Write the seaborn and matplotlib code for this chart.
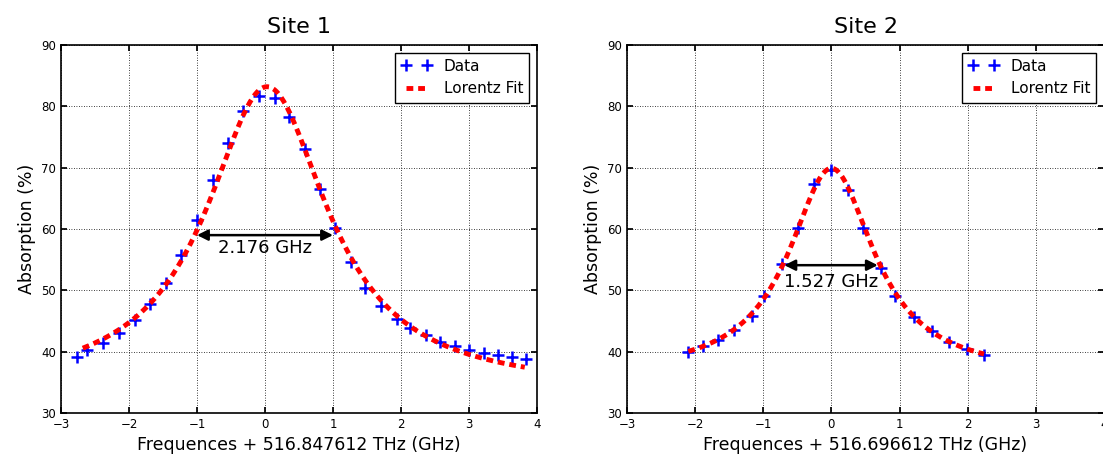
import numpy as np
import matplotlib
matplotlib.use("Agg")
import matplotlib.pyplot as plt
import seaborn as sns

# Site 1 measured points
x1 = [-2.76, -2.62, -2.38, -2.14, -1.91, -1.69, -1.46, -1.23, -1.00, -0.77,
      -0.54, -0.33, -0.09, 0.15, 0.36, 0.59, 0.81, 1.03, 1.26, 1.47,
      1.70, 1.94, 2.13, 2.37, 2.57, 2.79, 3.00, 3.22, 3.43, 3.63, 3.84]
y1 = [39.2, 40.2, 41.4, 43.0, 45.2, 47.8, 51.2, 55.8, 61.5, 68.0,
      74.1, 79.2, 81.7, 81.4, 78.3, 73.0, 66.5, 60.2, 54.6, 50.4,
      47.4, 45.3, 43.8, 42.7, 41.6, 40.9, 40.3, 39.8, 39.5, 39.1, 38.8]

# Site 2 measured points
x2 = [-2.11, -1.88, -1.66, -1.43, -1.17, -0.99, -0.73, -0.49, -0.25, -0.01,
      0.25, 0.47, 0.73, 0.94, 1.21, 1.47, 1.73, 1.99, 2.24]
y2 = [39.9, 40.9, 41.9, 43.6, 45.8, 49.1, 54.3, 60.1, 67.4, 69.7,
      66.4, 60.1, 53.6, 49.0, 45.7, 43.3, 41.6, 40.5, 39.4]

# Lorentz fit parameters: (centre, FWHM, amplitude, offset, x range)
fit1 = (0.03, 2.176, 49.5, 33.7, -2.68, 3.82)
fit2 = (0.0, 1.527, 33.8, 36.1, -2.10, 2.24)

# FWHM arrows: (x start, x end, y, label, label y)
arrow1 = (-1.0, 1.0, 59.0, "2.176 GHz", 56.9)
arrow2 = (-0.69, 0.68, 54.1, "1.527 GHz", 51.3)

titles = ["Site 1", "Site 2"]
xlabels = ["Frequences + 516.847612 THz (GHz)", "Frequences + 516.696612 THz (GHz)"]


def lorentz(x, x0, w, a, b):
    return b + a / (1 + (2 * (x - x0) / w) ** 2)


sns.set_theme(style="ticks", rc={
    "axes.linewidth": 1.2,
    "axes.edgecolor": "black",
    "axes.labelcolor": "black",
    "text.color": "black",
    "xtick.direction": "in",
    "ytick.direction": "in",
    "xtick.top": True,
    "ytick.right": True,
    "xtick.major.size": 4,
    "ytick.major.size": 4,
    "xtick.major.pad": 3.5,
    "ytick.major.pad": 3.5,
    "xtick.labelsize": 8.5,
    "ytick.labelsize": 8.5,
    "xtick.color": "black",
    "ytick.color": "black",
})
plt.rcParams["font.family"] = ["DejaVu Sans"]

fig = plt.figure(figsize=(11.03, 4.58), dpi=100)
ax1 = fig.add_axes([61 / 1103, 45 / 458, 476 / 1103, 368 / 458])
ax2 = fig.add_axes([627 / 1103, 45 / 458, 477 / 1103, 368 / 458])

for ax, xs, ys, fit, arr, title, xlab in zip(
        [ax1, ax2], [x1, x2], [y1, y2], [fit1, fit2], [arrow1, arrow2], titles, xlabels):
    x0, w, a, b, xmin, xmax = fit
    xf = np.linspace(xmin, xmax, 300)
    yf = lorentz(xf, x0, w, a, b)

    sns.lineplot(x=xs, y=ys, ax=ax, color="blue", marker="+", linestyle="",
                 markersize=8.5, markeredgewidth=1.8, markeredgecolor="blue",
                 label="Data")
    sns.lineplot(x=xf, y=yf, ax=ax, color="red", linewidth=3.5,
                 linestyle=(0, (1.4, 1.0)), label="Lorentz Fit")

    xa, xb, ya, txt, ty = arr
    ax.annotate("", xy=(xa, ya), xytext=(xb, ya),
                arrowprops=dict(arrowstyle="<|-|>", color="black", lw=1.8,
                                mutation_scale=16, shrinkA=0, shrinkB=0))
    ax.text((xa + xb) / 2, ty, txt, ha="center", va="center", fontsize=13)

    ax.set_xlim(-3, 4)
    ax.set_ylim(30, 90)
    ax.set_xticks(range(-3, 5))
    ax.set_yticks(range(30, 91, 10))
    ax.grid(True, color="black", linestyle=(0, (1, 2)), linewidth=0.6)
    ax.set_title(title, fontsize=16, pad=9)
    ax.set_xlabel(xlab, fontsize=12.5)
    ax.set_ylabel("Absorption (%)", fontsize=12.5)
    leg = ax.legend(loc="upper right", numpoints=2, fancybox=False,
                    edgecolor="black", framealpha=1, fontsize=11,
                    borderaxespad=0.5)
    leg.get_frame().set_linewidth(1.0)

fig.savefig("out.png", dpi=100)
